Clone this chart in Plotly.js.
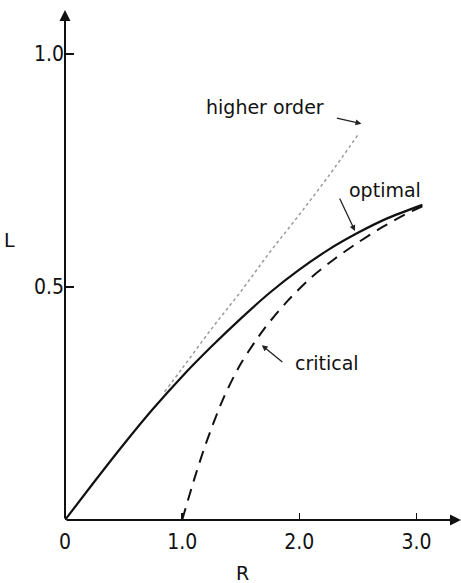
<!DOCTYPE html>
<html>
<head>
<meta charset="utf-8">
<script src="https://cdn.plot.ly/plotly-3.0.1.min.js"></script>
<style>
  html, body { margin: 0; padding: 0; background: #ffffff; }
  #chart { width: 461px; height: 583px; }
</style>
</head>
<body>
<div id="chart"></div>
<script>
// Optimal curve (solid)
const optimalR = [0, 0.25, 0.5, 0.75, 1.0, 1.25, 1.5, 1.75, 2.0, 2.25, 2.5, 2.75, 3.05];
const optimalL = [0, 0.082, 0.162, 0.238, 0.308, 0.372, 0.432, 0.488, 0.537, 0.58, 0.616, 0.647, 0.676];

// Critical curve (dashed), starting on the R axis at R = 1
const criticalR = [1.0, 1.1, 1.2, 1.35, 1.5, 1.7, 1.9, 2.1, 2.3, 2.5, 2.7, 2.9, 3.05];
const criticalL = [0, 0.085, 0.162, 0.26, 0.335, 0.41, 0.47, 0.52, 0.56, 0.595, 0.627, 0.655, 0.673];

// Higher order curve (dotted)
const higherR = [0.85, 1.0, 1.25, 1.5, 1.75, 2.0, 2.25, 2.5];
const higherL = [0.275, 0.325, 0.41, 0.49, 0.575, 0.655, 0.738, 0.826];

// Axis ticks
const xTickVals = [0, 1, 2, 3];
const xTickText = ['0', '1.0', '2.0', '3.0'];
const yTickVals = [0.5, 1.0];
const yTickText = ['0.5', '1.0'];

const xMax = 3.38;
const yMax = 1.094;

const tickFont = { family: 'Liberation Sans Narrow, DejaVu Sans Condensed, sans-serif', size: 21, color: '#111' };
const labelFont = { family: 'DejaVu Sans, sans-serif', size: 19, color: '#111' };

const traces = [
  {
    x: higherR, y: higherL, mode: 'lines', type: 'scatter',
    line: { color: '#9a9a9a', width: 1.5, dash: 'dot', shape: 'spline' },
    hoverinfo: 'skip'
  },
  {
    x: optimalR, y: optimalL, mode: 'lines', type: 'scatter',
    line: { color: '#111', width: 2.2, shape: 'spline', smoothing: 0.8 },
    hoverinfo: 'skip'
  },
  {
    x: criticalR, y: criticalL, mode: 'lines', type: 'scatter',
    line: { color: '#111', width: 2, dash: '12px,8px', shape: 'spline', smoothing: 0.8 },
    hoverinfo: 'skip'
  }
];

const annotations = [
  // axis arrows
  { x: xMax, y: 0, ax: 0, ay: 0, xref: 'x', yref: 'y', axref: 'x', ayref: 'y',
    showarrow: true, arrowhead: 2, arrowsize: 1.1, arrowwidth: 2, arrowcolor: '#111', text: '' },
  { x: 0, y: yMax, ax: 0, ay: 0, xref: 'x', yref: 'y', axref: 'x', ayref: 'y',
    showarrow: true, arrowhead: 2, arrowsize: 1.1, arrowwidth: 2, arrowcolor: '#111', text: '' },
  // axis names
  { x: -0.139, y: 0.549, xref: 'paper', yref: 'paper', xanchor: 'center', yanchor: 'middle',
    text: 'L', showarrow: false, font: labelFont },
  { x: 0.447, y: -0.104, xref: 'paper', yref: 'paper', xanchor: 'center', yanchor: 'middle',
    text: 'R', showarrow: false, font: labelFont },
  // curve labels
  { x: 1.71, y: 0.885, xref: 'x', yref: 'y', text: 'higher order', showarrow: false, font: labelFont },
  { x: 2.53, y: 0.85, xref: 'x', yref: 'y', ax: -26, ay: -6, text: '', showarrow: true,
    arrowhead: 2, arrowsize: 0.9, arrowwidth: 1.3, arrowcolor: '#222' },
  { x: 2.73, y: 0.708, xref: 'x', yref: 'y', text: 'optimal', showarrow: false, font: labelFont },
  { x: 2.475, y: 0.62, xref: 'x', yref: 'y', ax: -16, ay: -34, text: '', showarrow: true,
    arrowhead: 2, arrowsize: 0.9, arrowwidth: 1.3, arrowcolor: '#222' },
  { x: 2.24, y: 0.337, xref: 'x', yref: 'y', text: 'critical', showarrow: false, font: labelFont },
  { x: 1.68, y: 0.375, xref: 'x', yref: 'y', ax: 22, ay: 18, text: '', showarrow: true,
    arrowhead: 2, arrowsize: 0.9, arrowwidth: 1.3, arrowcolor: '#222' }
];

const layout = {
  width: 461, height: 583,
  margin: { l: 65, r: 0, t: 10, b: 63 },
  paper_bgcolor: '#ffffff', plot_bgcolor: '#ffffff',
  showlegend: false,
  xaxis: {
    range: [0, xMax], showgrid: false, zeroline: false, showline: false,
    tickvals: xTickVals, ticktext: xTickText, ticks: 'inside', ticklen: 7,
    tickwidth: 1.5, tickcolor: '#111', tickfont: tickFont, ticklabelstandoff: 7,
    fixedrange: true
  },
  yaxis: {
    range: [0, yMax], showgrid: false, zeroline: false, showline: false,
    tickvals: yTickVals, ticktext: yTickText, ticks: 'inside', ticklen: 9,
    tickwidth: 1.5, tickcolor: '#111', tickfont: tickFont, ticklabelstandoff: 0,
    fixedrange: true
  },
  annotations: annotations
};

Plotly.newPlot('chart', traces, layout, { displayModeBar: false, staticPlot: true });
</script>
</body>
</html>
